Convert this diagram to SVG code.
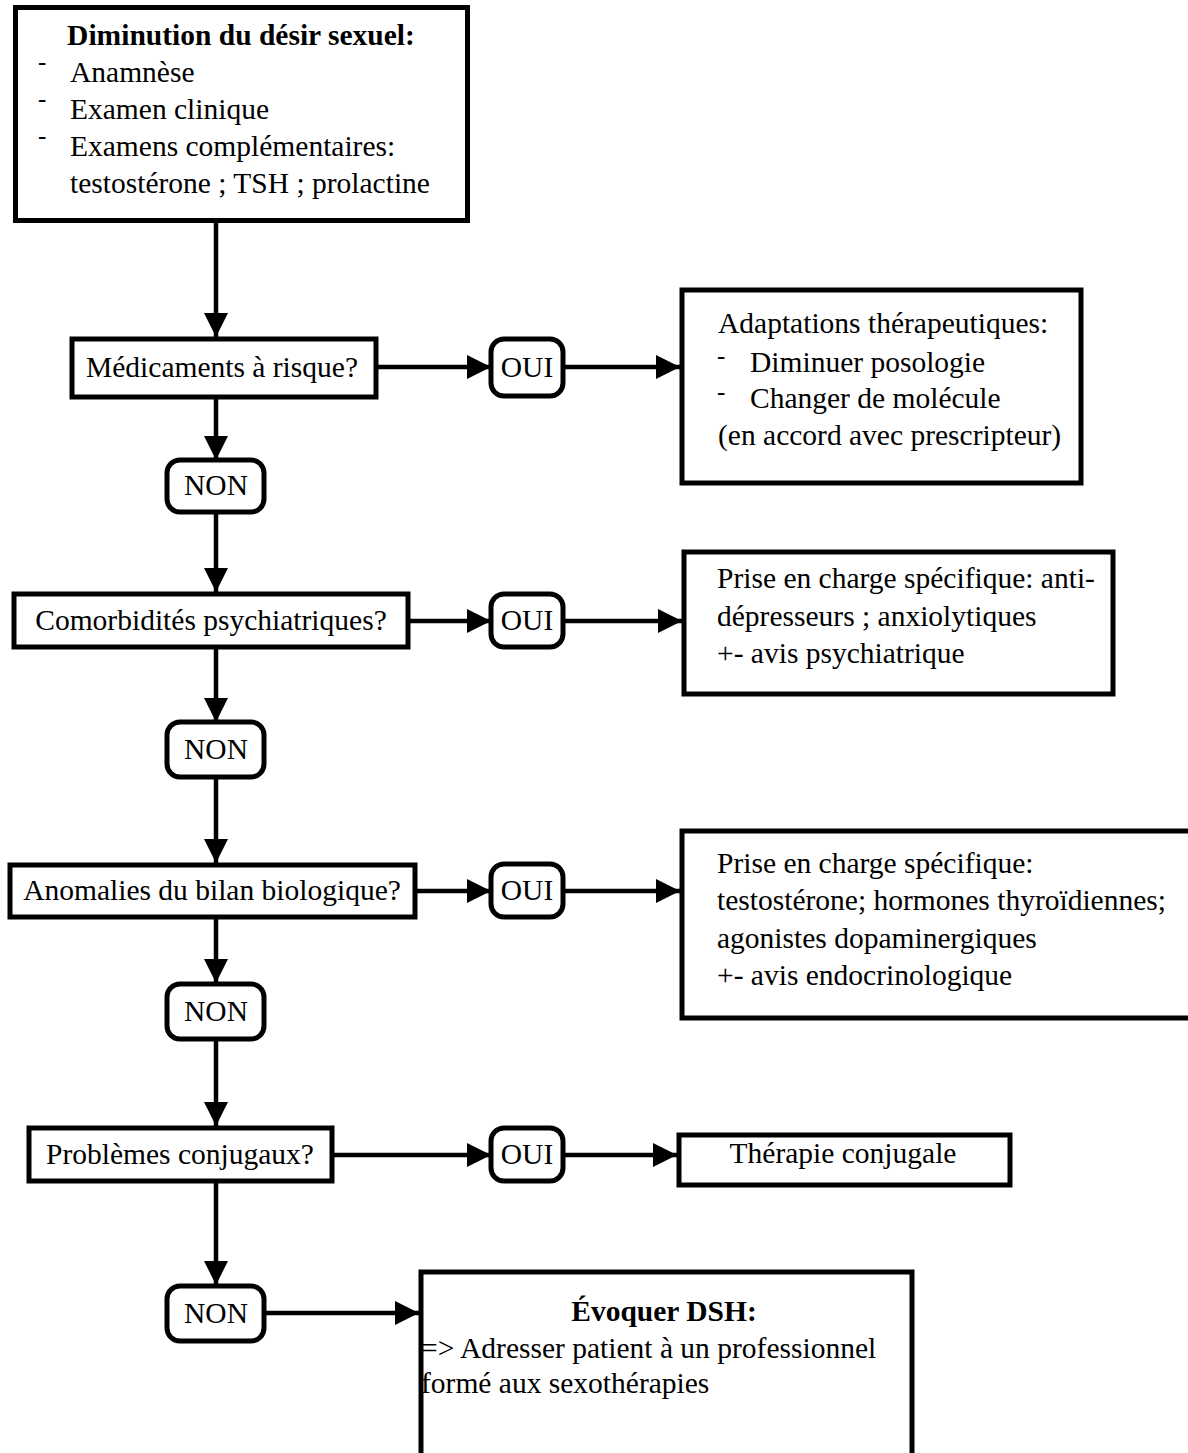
<svg xmlns="http://www.w3.org/2000/svg" width="1188" height="1453" viewBox="0 0 1188 1453">
<style>
text{font-family:"Liberation Serif","Times New Roman",serif;font-size:29.5px;fill:#000}
.b{font-weight:bold}
.m{text-anchor:middle}
.d{font-size:25px}
.box{fill:#fff;stroke:#000;stroke-width:5}
.pill{fill:#fff;stroke:#000;stroke-width:5}
.c{stroke:#000;stroke-width:4.5;fill:none;marker-end:url(#ah)}
</style>
<defs>
<marker id="ah" markerUnits="userSpaceOnUse" markerWidth="26" markerHeight="26" refX="24" refY="12" orient="auto" viewBox="0 0 26 24">
<path d="M0,0 L24,12 L0,24 Z" fill="#000"/>
</marker>
</defs>
<g id="connectors">
<line class="c" x1="216" y1="222" x2="216" y2="337"/>
<line class="c" x1="216" y1="397" x2="216" y2="460"/>
<line class="c" x1="216" y1="512" x2="216" y2="592"/>
<line class="c" x1="216" y1="648" x2="216" y2="722"/>
<line class="c" x1="216" y1="777" x2="216" y2="863"/>
<line class="c" x1="216" y1="918" x2="216" y2="983"/>
<line class="c" x1="216" y1="1040" x2="216" y2="1126"/>
<line class="c" x1="216" y1="1183" x2="216" y2="1285"/>
<line class="c" x1="378" y1="367" x2="491" y2="367"/>
<line class="c" x1="563" y1="367" x2="680" y2="367"/>
<line class="c" x1="410" y1="621" x2="491" y2="621"/>
<line class="c" x1="563" y1="621" x2="682" y2="621"/>
<line class="c" x1="417" y1="891" x2="491" y2="891"/>
<line class="c" x1="563" y1="891" x2="680" y2="891"/>
<line class="c" x1="334" y1="1155" x2="491" y2="1155"/>
<line class="c" x1="563" y1="1155" x2="677" y2="1155"/>
<line class="c" x1="264" y1="1313" x2="419" y2="1313"/>
</g>
<g id="start">
<rect class="box" x="15.5" y="7.5" width="452" height="213"/>
<text class="b m" x="241" y="45">Diminution du désir sexuel:</text>
<text class="d" x="38" y="70">-</text><text x="70" y="82">Anamnèse</text>
<text class="d" x="38" y="107">-</text><text x="70" y="119">Examen clinique</text>
<text class="d" x="38" y="144">-</text><text x="70" y="156">Examens complémentaires:</text>
<text x="70" y="193">testostérone ; TSH ; prolactine</text>
</g>
<g id="q1">
<rect class="box" x="72" y="339" width="304" height="58"/>
<text class="m" x="222" y="377">Médicaments à risque?</text>
</g>
<g id="oui1">
<rect class="pill" x="491" y="339" width="72" height="57" rx="13"/>
<text class="m" x="527" y="377">OUI</text>
</g>
<g id="r1">
<rect class="box" x="682" y="290" width="399" height="193"/>
<text x="718" y="333">Adaptations thérapeutiques:</text>
<text class="d" x="717" y="364">-</text><text x="750" y="372">Diminuer posologie</text>
<text class="d" x="717" y="400">-</text><text x="750" y="408">Changer de molécule</text>
<text x="718" y="445">(en accord avec prescripteur)</text>
</g>
<g id="non1">
<rect class="pill" x="167" y="460" width="97" height="52" rx="13"/>
<text class="m" x="216" y="495">NON</text>
</g>
<g id="q2">
<rect class="box" x="14" y="594" width="394" height="53"/>
<text class="m" x="211" y="630">Comorbidités psychiatriques?</text>
</g>
<g id="oui2">
<rect class="pill" x="491" y="594" width="72" height="53" rx="13"/>
<text class="m" x="527" y="630">OUI</text>
</g>
<g id="r2">
<rect class="box" x="684" y="552" width="429" height="142"/>
<text x="717" y="588">Prise en charge spécifique: anti-</text>
<text x="717" y="626">dépresseurs ; anxiolytiques</text>
<text x="717" y="663">+- avis psychiatrique</text>
</g>
<g id="non2">
<rect class="pill" x="167" y="722" width="97" height="55" rx="13"/>
<text class="m" x="216" y="759">NON</text>
</g>
<g id="q3">
<rect class="box" x="10" y="865" width="405" height="52"/>
<text class="m" x="212" y="900">Anomalies du bilan biologique?</text>
</g>
<g id="oui3">
<rect class="pill" x="491" y="864" width="72" height="53" rx="13"/>
<text class="m" x="527" y="900">OUI</text>
</g>
<g id="r3">
<rect class="box" x="682" y="831" width="520" height="187"/>
<text x="717" y="873">Prise en charge spécifique:</text>
<text x="717" y="910">testostérone; hormones thyroïdiennes;</text>
<text x="717" y="948">agonistes dopaminergiques</text>
<text x="717" y="985">+- avis endocrinologique</text>
</g>
<g id="non3">
<rect class="pill" x="167" y="984" width="97" height="55" rx="13"/>
<text class="m" x="216" y="1021">NON</text>
</g>
<g id="q4">
<rect class="box" x="29" y="1128" width="303" height="53"/>
<text class="m" x="180" y="1164">Problèmes conjugaux?</text>
</g>
<g id="oui4">
<rect class="pill" x="491" y="1128" width="72" height="53" rx="13"/>
<text class="m" x="527" y="1164">OUI</text>
</g>
<g id="r4">
<rect class="box" x="679" y="1135" width="331" height="50"/>
<text class="m" x="843" y="1163">Thérapie conjugale</text>
</g>
<g id="non4">
<rect class="pill" x="167" y="1286" width="97" height="55" rx="13"/>
<text class="m" x="216" y="1323">NON</text>
</g>
<g id="dsh">
<rect class="box" x="421" y="1272" width="491" height="200"/>
<text class="b m" x="664" y="1321">Évoquer DSH:</text>
<text x="421" y="1358">=&gt; Adresser patient à un professionnel</text>
<text x="421" y="1393">formé aux sexothérapies</text>
</g>
</svg>
